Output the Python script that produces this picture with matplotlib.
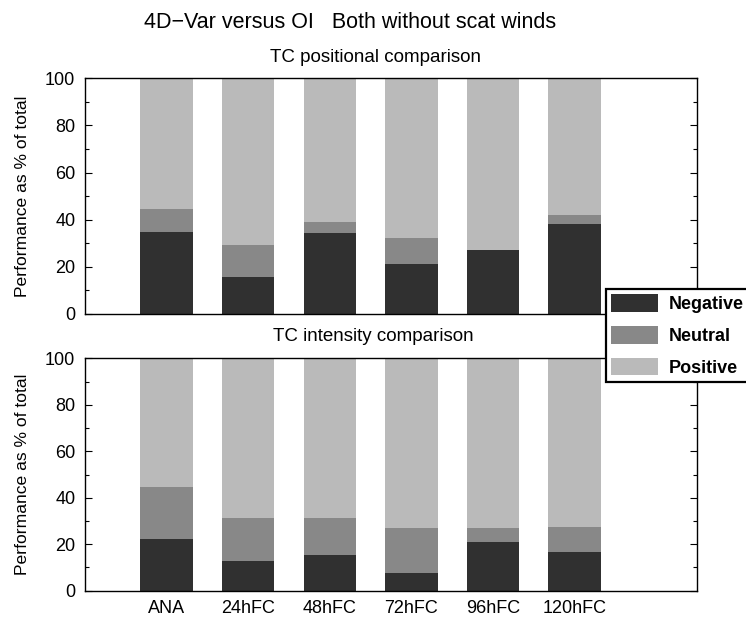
import matplotlib
matplotlib.use("Agg")
import matplotlib.pyplot as plt
import numpy as np
from matplotlib.patches import Patch

plt.rcParams['font.family'] = ['Liberation Sans', 'DejaVu Sans']

categories = ["ANA", "24hFC", "48hFC", "72hFC", "96hFC", "120hFC"]

pos_negative = [34.7, 15.6, 34.4, 21.2, 27.3, 38.3]
pos_neutral = [9.7, 13.7, 4.8, 11.2, 0.0, 3.7]
pos_positive = [100 - a - b for a, b in zip(pos_negative, pos_neutral)]

int_negative = [22.1, 12.8, 15.4, 7.8, 21.1, 16.8]
int_neutral = [22.5, 18.6, 15.8, 19.1, 6.0, 10.8]
int_positive = [100 - a - b for a, b in zip(int_negative, int_neutral)]

yticks = [0, 20, 40, 60, 80, 100]

c_neg = "#303030"
c_neu = "#888888"
c_pos = "#bababa"

W, H = 746, 620
fig = plt.figure(figsize=(W / 100, H / 100), dpi=100)

def px_axes(x0, y0, x1, y1):
    return fig.add_axes([x0 / W, 1 - y1 / H, (x1 - x0) / W, (y1 - y0) / H])

ax1 = px_axes(85, 78.3, 697, 314)
ax2 = px_axes(85, 358.3, 697, 590.7)

x = np.arange(len(categories))

def draw(ax, neg, neu, posv, show_x):
    ax.bar(x, neg, width=0.64, color=c_neg, linewidth=0)
    ax.bar(x, neu, width=0.64, bottom=neg, color=c_neu, linewidth=0)
    bot = [a + b for a, b in zip(neg, neu)]
    ax.bar(x, posv, width=0.64, bottom=bot, color=c_pos, linewidth=0)
    ax.set_xlim(-1, 6.5)
    ax.set_ylim(0, 100)
    ax.set_yticks(yticks)
    ax.set_yticks(np.arange(10, 100, 20), minor=True)
    ax.tick_params(axis='y', which='both', direction='in', left=True, right=True,
                   labelsize=13, pad=7, width=0.8)
    ax.tick_params(axis='y', which='major', length=5)
    ax.tick_params(axis='y', which='minor', length=3)
    ax.set_xticks(x)
    if show_x:
        ax.set_xticklabels(categories, fontsize=13)
    else:
        ax.set_xticklabels([])
    ax.tick_params(axis='x', length=0, pad=7)
    ax.set_ylabel("Performance as % of total", fontsize=12.6, labelpad=11)
    for s in ax.spines.values():
        s.set_linewidth(1.0)

draw(ax1, pos_negative, pos_neutral, pos_positive, False)
draw(ax2, int_negative, int_neutral, int_positive, True)

fig.text(350 / W, 1 - 22 / H, "4D\u2212Var versus OI   Both without scat winds",
         ha='center', va='center', fontsize=15.5)
fig.text(375 / W, 1 - 57 / H, "TC positional comparison", ha='center', va='center', fontsize=13.5)
fig.text(373 / W, 1 - 336 / H, "TC intensity comparison", ha='center', va='center', fontsize=13.5)

handles = [Patch(facecolor=c_neg, edgecolor='none'),
           Patch(facecolor=c_neu, edgecolor='none'),
           Patch(facecolor=c_pos, edgecolor='none')]
leg = fig.legend(handles, ["Negative", "Neutral", "Positive"], loc='upper left',
                 bbox_to_anchor=(606 / W, 1 - 289 / H), borderaxespad=0,
                 prop={'weight': 'bold', 'size': 13}, frameon=True, fancybox=False,
                 framealpha=1, edgecolor='black', handlelength=2.6, handleheight=1.1,
                 labelspacing=0.72, handletextpad=0.6, borderpad=0.3)
leg.get_frame().set_linewidth(1.6)

fig.savefig("out.png", dpi=100)
